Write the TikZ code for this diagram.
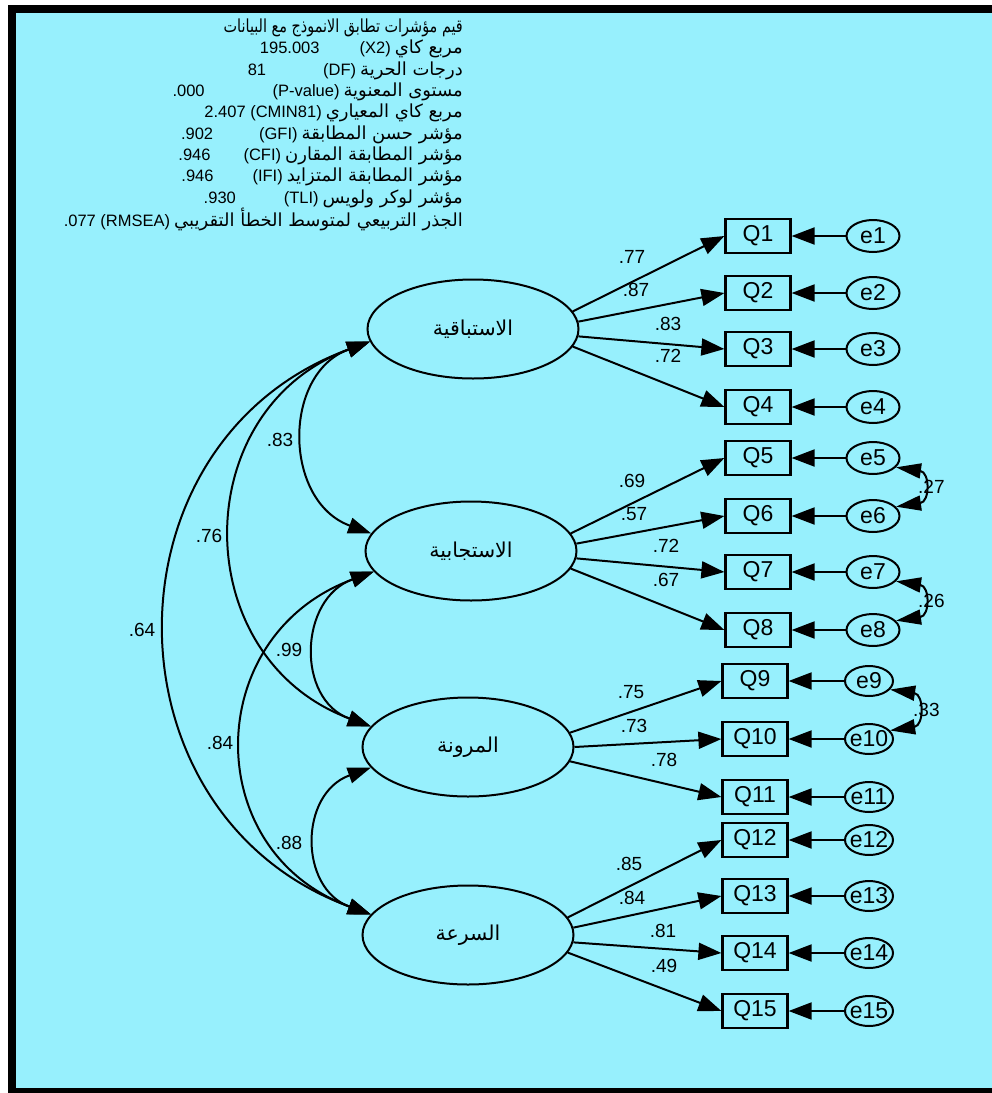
\documentclass[tikz,border=0pt]{standalone}
\usepackage{fontspec}
\setmainfont{Liberation Sans}
\newfontfamily\arabicfont[Script=Arabic]{DejaVu Sans}
\newfontfamily\arinfo[Script=Arabic,FakeStretch=0.8]{DejaVu Sans}
\TeXXeTstate=1
\usetikzlibrary{arrows.meta,shapes.geometric}
\definecolor{bgc}{RGB}{151,240,253}
\newcommand{\arhead}[1]{{\arinfo\fontsize{18}{18}\selectfont\beginR #1\endR}}
\newcommand{\ar}[1]{\hspace{4pt}{\arabicfont\fontsize{18}{18}\selectfont\beginR #1\endR}}
\begin{document}
\begin{tikzpicture}[x=1pt,y=-1pt,
  lat/.style={ellipse,draw,line width=2pt,fill=bgc,minimum width=211pt,minimum height=99pt,inner sep=0pt,font=\arabicfont\fontsize{20.5}{20.5}\selectfont},
  obs/.style={rectangle,draw,line width=2.2pt,minimum width=65pt,minimum height=34pt,inner sep=0pt,font=\fontsize{23}{23}\selectfont},
  err/.style={ellipse,draw,line width=2pt,minimum width=53pt,minimum height=32pt,inner sep=0pt,font=\fontsize{23}{23}\selectfont},
  errs/.style={err,minimum width=48pt,minimum height=30pt},
  ld/.style={line width=2pt,-{Triangle[length=23pt,width=17pt]}},
  cv/.style={line width=2pt,{Triangle[length=23pt,width=16pt]}-{Triangle[length=23pt,width=16pt]}},
  ecv/.style={line width=2pt,{Triangle[length=25pt,width=15pt]}-{Triangle[length=25pt,width=15pt]}},
  num/.style={font=\fontsize{19}{19}\selectfont,inner sep=0pt},
  info/.style={font=\fontsize{16.5}{16.5}\selectfont,inner sep=0pt,anchor=east},
]
\useasboundingbox (0,0) rectangle (992,1093);
\fill[white] (0,0) rectangle (992,1093);
\fill[black] (8,5) rectangle (992,1093);
\fill[bgc] (16,13) rectangle (992,1088);

% info block
\node[info] (t1) at (463,28) {\arhead{قيم مؤشرات تطابق الانموذج مع البيانات}};
\node[info] (t2) at (463,49.3) {195.003\hspace{40pt}(X2)\ar{مربع كاي}};
\node[info] (t3) at (463,70.6) {81\hspace{57pt}(DF)\ar{درجات الحرية}};
\node[info] (t4) at (463,91.9) {.000\hspace{68pt}(P-value)\ar{مستوى المعنوية}};
\node[info] (t5) at (463,113.2) {2.407 (CMIN81)\ar{مربع كاي المعياري}};
\node[info] (t6) at (463,134.5) {.902\hspace{46pt}(GFI)\ar{مؤشر حسن المطابقة}};
\node[info] (t7) at (463,155.8) {.946\hspace{33pt}(CFI)\ar{مؤشر المطابقة المقارن}};
\node[info] (t8) at (463,177.1) {.946\hspace{39pt}(IFI)\ar{مؤشر المطابقة المتزايد}};
\node[info] (t9) at (463,198.4) {.930\hspace{48pt}(TLI)\ar{مؤشر لوكر ولويس}};
\node[info] (t10) at (463,219.7) {.077 (RMSEA)\ar{الجذر التربيعي لمتوسط الخطأ التقريبي}};

% latent variables
\node[lat] (E1) at (473,329) {\beginR الاستباقية\endR};
\node[lat] (E2) at (471,551) {\beginR الاستجابية\endR};
\node[lat] (E3) at (468,747) {\beginR المرونة\endR};
\node[lat] (E4) at (468,935) {\beginR السرعة\endR};

% observed
\foreach \i/\y in {1/236,2/293,3/349,4/407,5/458,6/516,7/572,8/630}{
  \node[obs] (Q\i) at (758,\y) {Q\i};
  \node[err] (e\i) at (873,\y) {\makebox[0pt]{e\i}};
  \draw[ld] (e\i) -- (Q\i);
}
\foreach \i/\y in {9/681,10/739,11/797,12/840,13/896,14/953,15/1011}{
  \node[obs] (Q\i) at (755,\y) {Q\i};
  \node[errs] (e\i) at (869,\y) {\makebox[0pt]{e\i}};
  \draw[ld] (e\i) -- (Q\i);
}

% loadings
\draw[ld] (E1.10) -- (Q1.west);
\draw[ld] (E1.4) -- (Q2.west);
\draw[ld] (E1.-4) -- (Q3.west);
\draw[ld] (E1.-10) -- (Q4.west);
\draw[ld] (E2.10) -- (Q5.west);
\draw[ld] (E2.4) -- (Q6.west);
\draw[ld] (E2.-4) -- (Q7.west);
\draw[ld] (E2.-10) -- (Q8.west);
\draw[ld] (E3.8) -- (Q9.west);
\draw[ld] (E3.0) -- (Q10.west);
\draw[ld] (E3.-8) -- (Q11.west);
\draw[ld] (E4.10) -- (Q12.west);
\draw[ld] (E4.4) -- (Q13.west);
\draw[ld] (E4.-4) -- (Q14.west);
\draw[ld] (E4.-10) -- (Q15.west);

\node[num] (l1) at (632,257) {.77};
\node[num] (l2) at (636,290) {.87};
\node[num] (l3) at (668,324) {.83};
\node[num] (l4) at (668,356) {.72};
\node[num] (l5) at (632,481) {.69};
\node[num] (l6) at (634,514) {.57};
\node[num] (l7) at (666,546) {.72};
\node[num] (l8) at (666,580) {.67};
\node[num] (l9) at (631,692) {.75};
\node[num] (l10) at (634,726) {.73};
\node[num] (l11) at (664,760) {.78};
\node[num] (l12) at (629,864) {.85};
\node[num] (l13) at (632,898) {.84};
\node[num] (l14) at (663,931) {.81};
\node[num] (l15) at (664,966) {.49};

% covariances between factors
\draw[cv] (E1.187) .. controls +(-88,32) and +(-88,-32) .. (E2.170);
\draw[cv] (E1.187) .. controls +(-184,68) and +(-184,-68) .. (E3.168);
\draw[cv] (E1.187) .. controls +(-271,99) and +(-271,-99) .. (E4.168);
\draw[cv] (E2.192) .. controls +(-75,27) and +(-75,-27) .. (E3.168);
\draw[cv] (E2.192) .. controls +(-172,63) and +(-172,-63) .. (E4.168);
\draw[cv] (E3.192) .. controls +(-72,26) and +(-72,-26) .. (E4.168);
\node[num] (c1) at (280,440) {.83};
\node[num] (c2) at (209,536) {.76};
\node[num] (c3) at (142,630) {.64};
\node[num] (c4) at (289,650) {.99};
\node[num] (c5) at (220,743) {.84};
\node[num] (c6) at (289,843) {.88};

% error covariances (labels first so the arc covers the dot)
\node[num,anchor=west] (r1) at (918,487) {.27};
\node[num,anchor=west] (r2) at (918,601) {.26};
\node[num,anchor=west] (r3) at (913,710) {.33};
\draw[ecv] (e5.-22) .. controls +(34,5) and +(34,-5) .. (e6.22);
\draw[ecv] (e7.-22) .. controls +(34,5) and +(34,-5) .. (e8.22);
\draw[ecv] (e9.-22) .. controls +(34,5) and +(34,-5) .. (e10.22);
\end{tikzpicture}
\end{document}
